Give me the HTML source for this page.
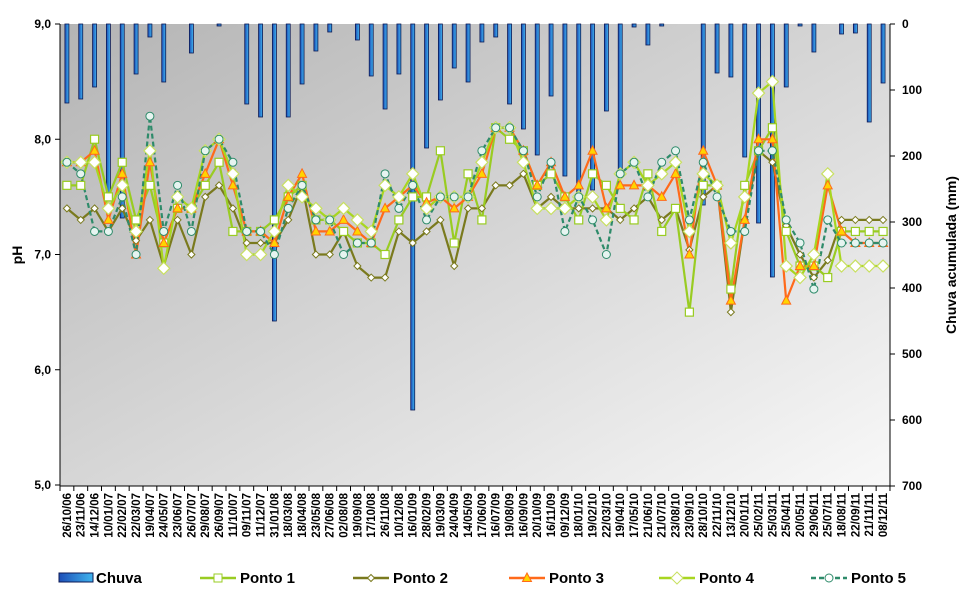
<!DOCTYPE html>
<html><head><meta charset="utf-8"><style>
html,body{margin:0;padding:0;background:#fff;}
svg{display:block;font-family:"Liberation Sans",Arial,sans-serif;}
</style></head><body>
<svg id="c" width="961" height="594" viewBox="0 0 961 594" xmlns="http://www.w3.org/2000/svg">
<defs>
<linearGradient id="bg" x1="0" y1="0" x2="1" y2="1">
<stop offset="0" stop-color="#b4b4b4"/><stop offset="1" stop-color="#f8f8f8"/>
</linearGradient>
<linearGradient id="bar" x1="0" y1="0" x2="1" y2="0">
<stop offset="0" stop-color="#1d4fb8"/><stop offset="1" stop-color="#3fb4ee"/>
</linearGradient>
</defs>
<rect x="60" y="24" width="830" height="462" fill="url(#bg)"/>
<g id="bars"></g>
<g id="series"></g>
<g id="axes" stroke="#000" stroke-width="1"></g>
<g id="txt" font-weight="bold" font-size="12" fill="#000"></g>
</svg>
<script>
var NS="http://www.w3.org/2000/svg";
function el(p,t,a,txt){var e=document.createElementNS(NS,t);for(var k in a)e.setAttribute(k,a[k]);if(txt!=null)e.textContent=txt;p.appendChild(e);return e;}
var X=function(i){return 66.9+13.833*i;};
var Y=function(ph){return 24+(9-ph)*115.25;};
var labels="26/10/06 23/11/06 14/12/06 10/01/07 22/02/07 22/03/07 19/04/07 24/05/07 23/06/07 26/07/07 29/08/07 26/09/07 11/10/07 09/11/07 11/12/07 31/01/08 18/03/08 18/04/08 23/05/08 27/06/08 02/08/08 19/09/08 17/10/08 26/11/08 10/12/08 16/01/09 28/02/09 19/03/09 24/04/09 14/05/09 17/06/09 16/07/09 19/08/09 16/09/09 20/10/09 16/11/09 09/12/09 18/01/10 19/02/10 22/03/10 19/04/10 17/05/10 21/06/10 21/07/10 23/08/10 23/09/10 28/10/10 22/11/10 13/12/10 20/01/11 25/02/11 25/03/11 25/04/11 20/05/11 29/06/11 25/07/11 18/08/11 22/09/11 21/11/11 08/12/11".split(" ");
// rain bottoms in pixel y (0 = none)
var rain=[103,99,87,200,218,74,37,82,0,53,0,26,0,104,117,321,117,84,51,32,0,40,76,109,74,410,148,100,68,82,42,37,104,129,155,96,176,200,190,111,175,27,45,26,0,0,205,73,77,157,223,277,87,26,52,0,34,33,122,83];
var bars=document.getElementById('bars');
rain.forEach(function(b,i){if(b>24)el(bars,'rect',{x:X(i)-2,y:24,width:4,height:b-24,fill:'url(#bar)',stroke:'#0c1a55','stroke-width':0.8});});
var P1=[7.6,7.6,8.0,7.5,7.8,7.3,7.6,7.1,7.4,7.4,7.6,7.8,7.2,7.2,7.2,7.3,7.5,7.6,7.3,7.3,7.2,7.1,7.1,7.0,7.3,7.5,7.5,7.9,7.1,7.7,7.3,8.1,8.0,7.9,7.6,7.7,7.5,7.3,7.7,7.6,7.4,7.3,7.7,7.2,7.4,6.5,7.6,7.6,6.7,7.6,7.9,8.1,7.2,6.9,6.9,6.8,7.2,7.2,7.2,7.2];
var P2=[7.4,7.3,7.4,7.2,7.4,7.12,7.3,6.9,7.3,7.0,7.5,7.6,7.4,7.1,7.1,7.1,7.3,7.6,7.0,7.0,7.2,6.9,6.8,6.8,7.2,7.1,7.2,7.3,6.9,7.4,7.4,7.6,7.6,7.7,7.4,7.5,7.4,7.4,7.4,7.4,7.3,7.4,7.5,7.3,7.4,7.04,7.5,7.6,6.5,7.3,7.9,7.8,7.25,7.0,6.8,6.95,7.3,7.3,7.3,7.3];
var P3=[7.8,7.8,7.9,7.3,7.7,7.0,7.8,7.1,7.4,7.4,7.7,8.0,7.6,7.2,7.2,7.1,7.5,7.7,7.2,7.2,7.3,7.2,7.1,7.4,7.5,7.6,7.45,7.5,7.4,7.5,7.7,8.1,8.1,7.9,7.6,7.8,7.5,7.6,7.9,7.4,7.6,7.6,7.6,7.5,7.7,7.0,7.9,7.6,6.6,7.3,8.0,8.0,6.6,6.9,6.9,7.6,7.2,7.1,7.1,7.1];
var P4=[7.8,7.8,7.8,7.4,7.6,7.2,7.9,6.88,7.5,7.4,7.9,8.0,7.7,7.0,7.0,7.2,7.6,7.5,7.4,7.3,7.4,7.3,7.2,7.6,7.5,7.7,7.4,7.5,7.5,7.5,7.8,8.1,8.1,7.8,7.4,7.4,7.4,7.5,7.5,7.3,7.7,7.8,7.6,7.7,7.8,7.2,7.7,7.6,7.1,7.5,8.4,8.5,6.9,6.8,7.0,7.7,6.9,6.9,6.9,6.9];
var P5=[7.8,7.7,7.2,7.2,7.5,7.0,8.2,7.2,7.6,7.2,7.9,8.0,7.8,7.2,7.2,7.0,7.4,7.6,7.3,7.3,7.0,7.1,7.1,7.7,7.4,7.6,7.3,7.5,7.5,7.5,7.9,8.1,8.1,7.9,7.5,7.8,7.2,7.5,7.3,7.0,7.7,7.8,7.5,7.8,7.9,7.3,7.8,7.5,7.2,7.2,7.9,7.9,7.3,7.1,6.7,7.3,7.1,7.1,7.1,7.1];
var S=document.getElementById('series');
function pts(a){return a.map(function(v,i){return X(i).toFixed(1)+','+Y(v).toFixed(1);}).join(' ');}
function line(a,col,dash){var o={points:pts(a),fill:'none',stroke:col,'stroke-width':2.2,'stroke-linejoin':'round'};if(dash)o['stroke-dasharray']=dash;el(S,'polyline',o);}
line(P2,'#7a7a1e');line(P1,'#99cc22');line(P3,'#ff6a1a');line(P4,'#a8d620');line(P5,'#2e8b6a','5,3');
function marks(a,fn){a.forEach(function(v,i){fn(X(i),Y(v));});}
marks(P2,function(x,y){el(S,'polygon',{points:[x,y-3.5,x+3.5,y,x,y+3.5,x-3.5,y].join(','),fill:'#fff',stroke:'#7a7a1e','stroke-width':1});});
marks(P1,function(x,y){el(S,'rect',{x:x-4,y:y-4,width:8,height:8,fill:'#fff',stroke:'#99cc22','stroke-width':1.2});});
marks(P3,function(x,y){el(S,'polygon',{points:[x,y-5,x+4.5,y+3.5,x-4.5,y+3.5].join(','),fill:'#ffd400',stroke:'#ff6a1a','stroke-width':1});});
marks(P4,function(x,y){el(S,'polygon',{points:[x,y-6,x+6,y,x,y+6,x-6,y].join(','),fill:'#fff',stroke:'#c8e060','stroke-width':1.2});});
marks(P5,function(x,y){el(S,'circle',{cx:x,cy:y,r:4,fill:'#e6f4f0',stroke:'#2e8b6a','stroke-width':1});});
var A=document.getElementById('axes');
el(A,'line',{x1:60,y1:24,x2:60,y2:486});
el(A,'line',{x1:890,y1:24,x2:890,y2:486});
el(A,'line',{x1:60,y1:486,x2:890,y2:486});
for(var k=0;k<5;k++){var y=24+k*115.25;el(A,'line',{x1:55,y1:y,x2:60,y2:y});}
for(var k=0;k<8;k++){var y=24+k*66;el(A,'line',{x1:890,y1:y,x2:895,y2:y});}
for(var i=0;i<=60;i++){var x=60+i*13.833;el(A,'line',{x1:x,y1:486,x2:x,y2:491});}
var T=document.getElementById('txt');
["9,0","8,0","7,0","6,0","5,0"].forEach(function(s,k){el(T,'text',{x:51,y:24+k*115.25+4,'text-anchor':'end'},s);});
for(var k=0;k<8;k++)el(T,'text',{x:902,y:24+k*66+4},String(k*100));
labels.forEach(function(s,i){var x=X(i)+4;el(T,'text',{x:0,y:0,transform:'translate('+x+',493) rotate(-90)','text-anchor':'end','font-size':11.5},s);});
el(T,'text',{x:0,y:0,transform:'translate(22,255) rotate(-90)','text-anchor':'middle','font-size':14},'pH');
el(T,'text',{x:0,y:0,transform:'translate(956,255) rotate(-90)','text-anchor':'middle','font-size':14},'Chuva acumulada (mm)');
// legend
var L=T,ly=578;
el(L,'rect',{x:59,y:573,width:34,height:9,fill:'url(#bar)',stroke:'#0c1a55','stroke-width':1});
el(L,'text',{x:96,y:ly+5,'font-size':15},'Chuva');
function leg(x1,col,dash,mk,lab){var o={x1:x1,y1:ly,x2:x1+36,y2:ly,stroke:col,'stroke-width':2.5};if(dash)o['stroke-dasharray']=dash;el(L,'line',o);mk(x1+18,ly);el(L,'text',{x:x1+40,y:ly+5,'font-size':15},lab);}
leg(200,'#99cc22',null,function(x,y){el(L,'rect',{x:x-4,y:y-4,width:8,height:8,fill:'#fff',stroke:'#99cc22'});},'Ponto 1');
leg(353,'#7a7a1e',null,function(x,y){el(L,'polygon',{points:[x,y-3.5,x+3.5,y,x,y+3.5,x-3.5,y].join(','),fill:'#fff',stroke:'#7a7a1e'});},'Ponto 2');
leg(509,'#ff6a1a',null,function(x,y){el(L,'polygon',{points:[x,y-5,x+4.5,y+3.5,x-4.5,y+3.5].join(','),fill:'#ffd400',stroke:'#ff6a1a'});},'Ponto 3');
leg(659,'#a8d620',null,function(x,y){el(L,'polygon',{points:[x,y-6,x+6,y,x,y+6,x-6,y].join(','),fill:'#fff',stroke:'#c8e060'});},'Ponto 4');
leg(811,'#2e8b6a','5,3',function(x,y){el(L,'circle',{cx:x,cy:y,r:4,fill:'#fff',stroke:'#2e8b6a'});},'Ponto 5');
</script>
</body></html>
